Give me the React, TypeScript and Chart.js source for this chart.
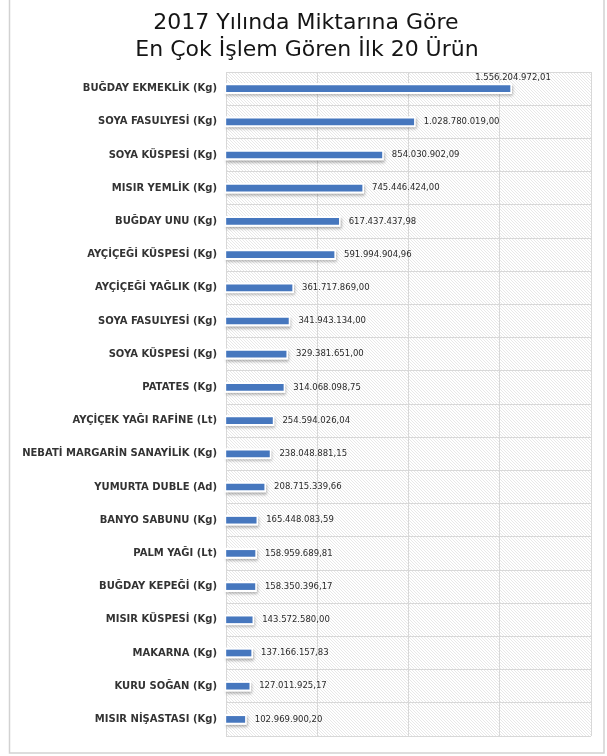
import React, { useEffect, useRef } from 'react';
import { Chart, registerables } from 'chart.js';
Chart.register(...registerables);

const TITLE_LINES = ['2017 Yılında Miktarına Göre', 'En Çok İşlem Gören İlk 20 Ürün'];

const CATEGORIES = [
  'BUĞDAY EKMEKLİK (Kg)',
  'SOYA FASULYESİ (Kg)',
  'SOYA KÜSPESİ (Kg)',
  'MISIR YEMLİK (Kg)',
  'BUĞDAY UNU (Kg)',
  'AYÇİÇEĞİ KÜSPESİ (Kg)',
  'AYÇİÇEĞİ YAĞLIK (Kg)',
  'SOYA FASULYESİ (Kg)',
  'SOYA KÜSPESİ (Kg)',
  'PATATES (Kg)',
  'AYÇİÇEK YAĞI RAFİNE (Lt)',
  'NEBATİ MARGARİN SANAYİLİK (Kg)',
  'YUMURTA DUBLE (Ad)',
  'BANYO SABUNU (Kg)',
  'PALM YAĞI (Lt)',
  'BUĞDAY KEPEĞİ (Kg)',
  'MISIR KÜSPESİ (Kg)',
  'MAKARNA (Kg)',
  'KURU SOĞAN (Kg)',
  'MISIR NİŞASTASI (Kg)',
];

const VALUES = [
  1556204972.01, 1028780019.0, 854030902.09, 745446424.0, 617437437.98,
  591994904.96, 361717869.0, 341943134.0, 329381651.0, 314068098.75,
  254594026.04, 238048881.15, 208715339.66, 165448083.59, 158959689.81,
  158350396.17, 143572580.0, 137166157.83, 127011925.17, 102969900.2,
];

const X_MIN = 0;
const X_MAX = 2000000000;
const X_STEP = 500000000;

function fmtTR(v: number): string {
  const [i, d] = v.toFixed(2).split('.');
  return i.replace(/\B(?=(\d{3})+(?!\d))/g, '.') + ',' + d;
}

const FONT = '"DejaVu Sans", "Noto Sans", sans-serif';

function makeHatch(): CanvasPattern | string {
  const pc = document.createElement('canvas');
  pc.width = 3;
  pc.height = 3;
  const p = pc.getContext('2d');
  if (!p) return '#f3f3f3';
  p.fillStyle = '#ffffff';
  p.fillRect(0, 0, 3, 3);
  p.fillStyle = '#e8e8e8';
  for (let i = 0; i < 3; i++) p.fillRect(i, i, 1, 1);
  const pat = p.createPattern(pc, 'repeat');
  return pat || '#f3f3f3';
}

const framePlugin = {
  id: 'frame',
  beforeDraw(chart: any) {
    const { ctx, chartArea: a, width, height } = chart;
    ctx.save();
    ctx.fillStyle = '#ffffff';
    ctx.fillRect(0, 0, width, height);
    ctx.strokeStyle = '#d2d2d2';
    ctx.lineWidth = 1.5;
    ctx.strokeRect(9.5, -2, 594.5, 755);
    ctx.fillStyle = makeHatch();
    ctx.fillRect(a.left, a.top, a.right - a.left, a.bottom - a.top);
    // title
    ctx.fillStyle = '#151515';
    ctx.font = `22px ${FONT}`;
    ctx.textAlign = 'center';
    ctx.textBaseline = 'middle';
    ctx.fillText(TITLE_LINES[0], 306, 23);
    ctx.fillText(TITLE_LINES[1], 307, 50);
    ctx.restore();
  },
  beforeDatasetsDraw(chart: any) {
    const { ctx } = chart;
    const meta = chart.getDatasetMeta(0);
    ctx.save();
    ctx.shadowColor = 'rgba(0,0,0,0.35)';
    ctx.shadowBlur = 3;
    ctx.shadowOffsetX = 1;
    ctx.shadowOffsetY = 2;
    ctx.fillStyle = '#ffffff';
    meta.data.forEach((bar: any) => {
      const h = bar.height;
      const left = Math.min(bar.base, bar.x);
      const right = Math.max(bar.base, bar.x);
      ctx.fillRect(left - 2, bar.y - h / 2 - 2.5, right - left + 4, h + 5);
    });
    ctx.restore();
  },
  afterDatasetsDraw(chart: any) {
    const { ctx, chartArea: a } = chart;
    const meta = chart.getDatasetMeta(0);
    ctx.save();
    ctx.fillStyle = '#2a2a2a';
    ctx.font = `8.5px ${FONT}`;
    ctx.textBaseline = 'middle';
    meta.data.forEach((bar: any, i: number) => {
      const txt = fmtTR(VALUES[i]);
      const w = ctx.measureText(txt).width;
      const x = bar.x + 10;
      if (x + w > a.right - 4) {
        ctx.textAlign = 'center';
        ctx.fillText(txt, bar.x + 3, bar.y - 11);
      } else {
        ctx.textAlign = 'left';
        ctx.fillText(txt, x, bar.y);
      }
    });
    ctx.restore();
  },
};

export default function App() {
  const ref = useRef<HTMLCanvasElement | null>(null);
  useEffect(() => {
    document.body.style.margin = '0';
    if (!ref.current) return;
    const chart = new Chart(ref.current, {
      type: 'bar',
      data: {
        labels: CATEGORIES,
        datasets: [
          {
            data: VALUES,
            backgroundColor: '#4677BE',
            borderWidth: 0,
            barThickness: 6,
          },
        ],
      },
      options: {
        indexAxis: 'y',
        responsive: false,
        animation: false,
        layout: { padding: { left: 0, right: 16, top: 72, bottom: 20 } },
        plugins: {
          legend: { display: false },
          title: { display: false },
          tooltip: { enabled: false },
        },
        scales: {
          x: {
            type: 'linear',
            min: X_MIN,
            max: X_MAX,
            ticks: { display: false, stepSize: X_STEP },
            grid: { color: '#d8d8d8', drawTicks: false, lineWidth: 1 },
            border: { display: false },
          },
          y: {
            type: 'category',
            afterFit: (s: any) => {
              s.width = 226;
            },
            ticks: {
              padding: 9,
              color: '#333333',
              font: { family: FONT, size: 10, weight: 'bold' },
            },
            grid: { color: '#d8d8d8', drawTicks: false, offset: true },
            border: { display: false },
          },
        },
      },
      plugins: [framePlugin],
    });
    return () => chart.destroy();
  }, []);
  return (
    <div style={{ width: 607, height: 756 }}>
      <canvas ref={ref} width={607} height={756} style={{ width: 607, height: 756, display: 'block' }} />
    </div>
  );
}
